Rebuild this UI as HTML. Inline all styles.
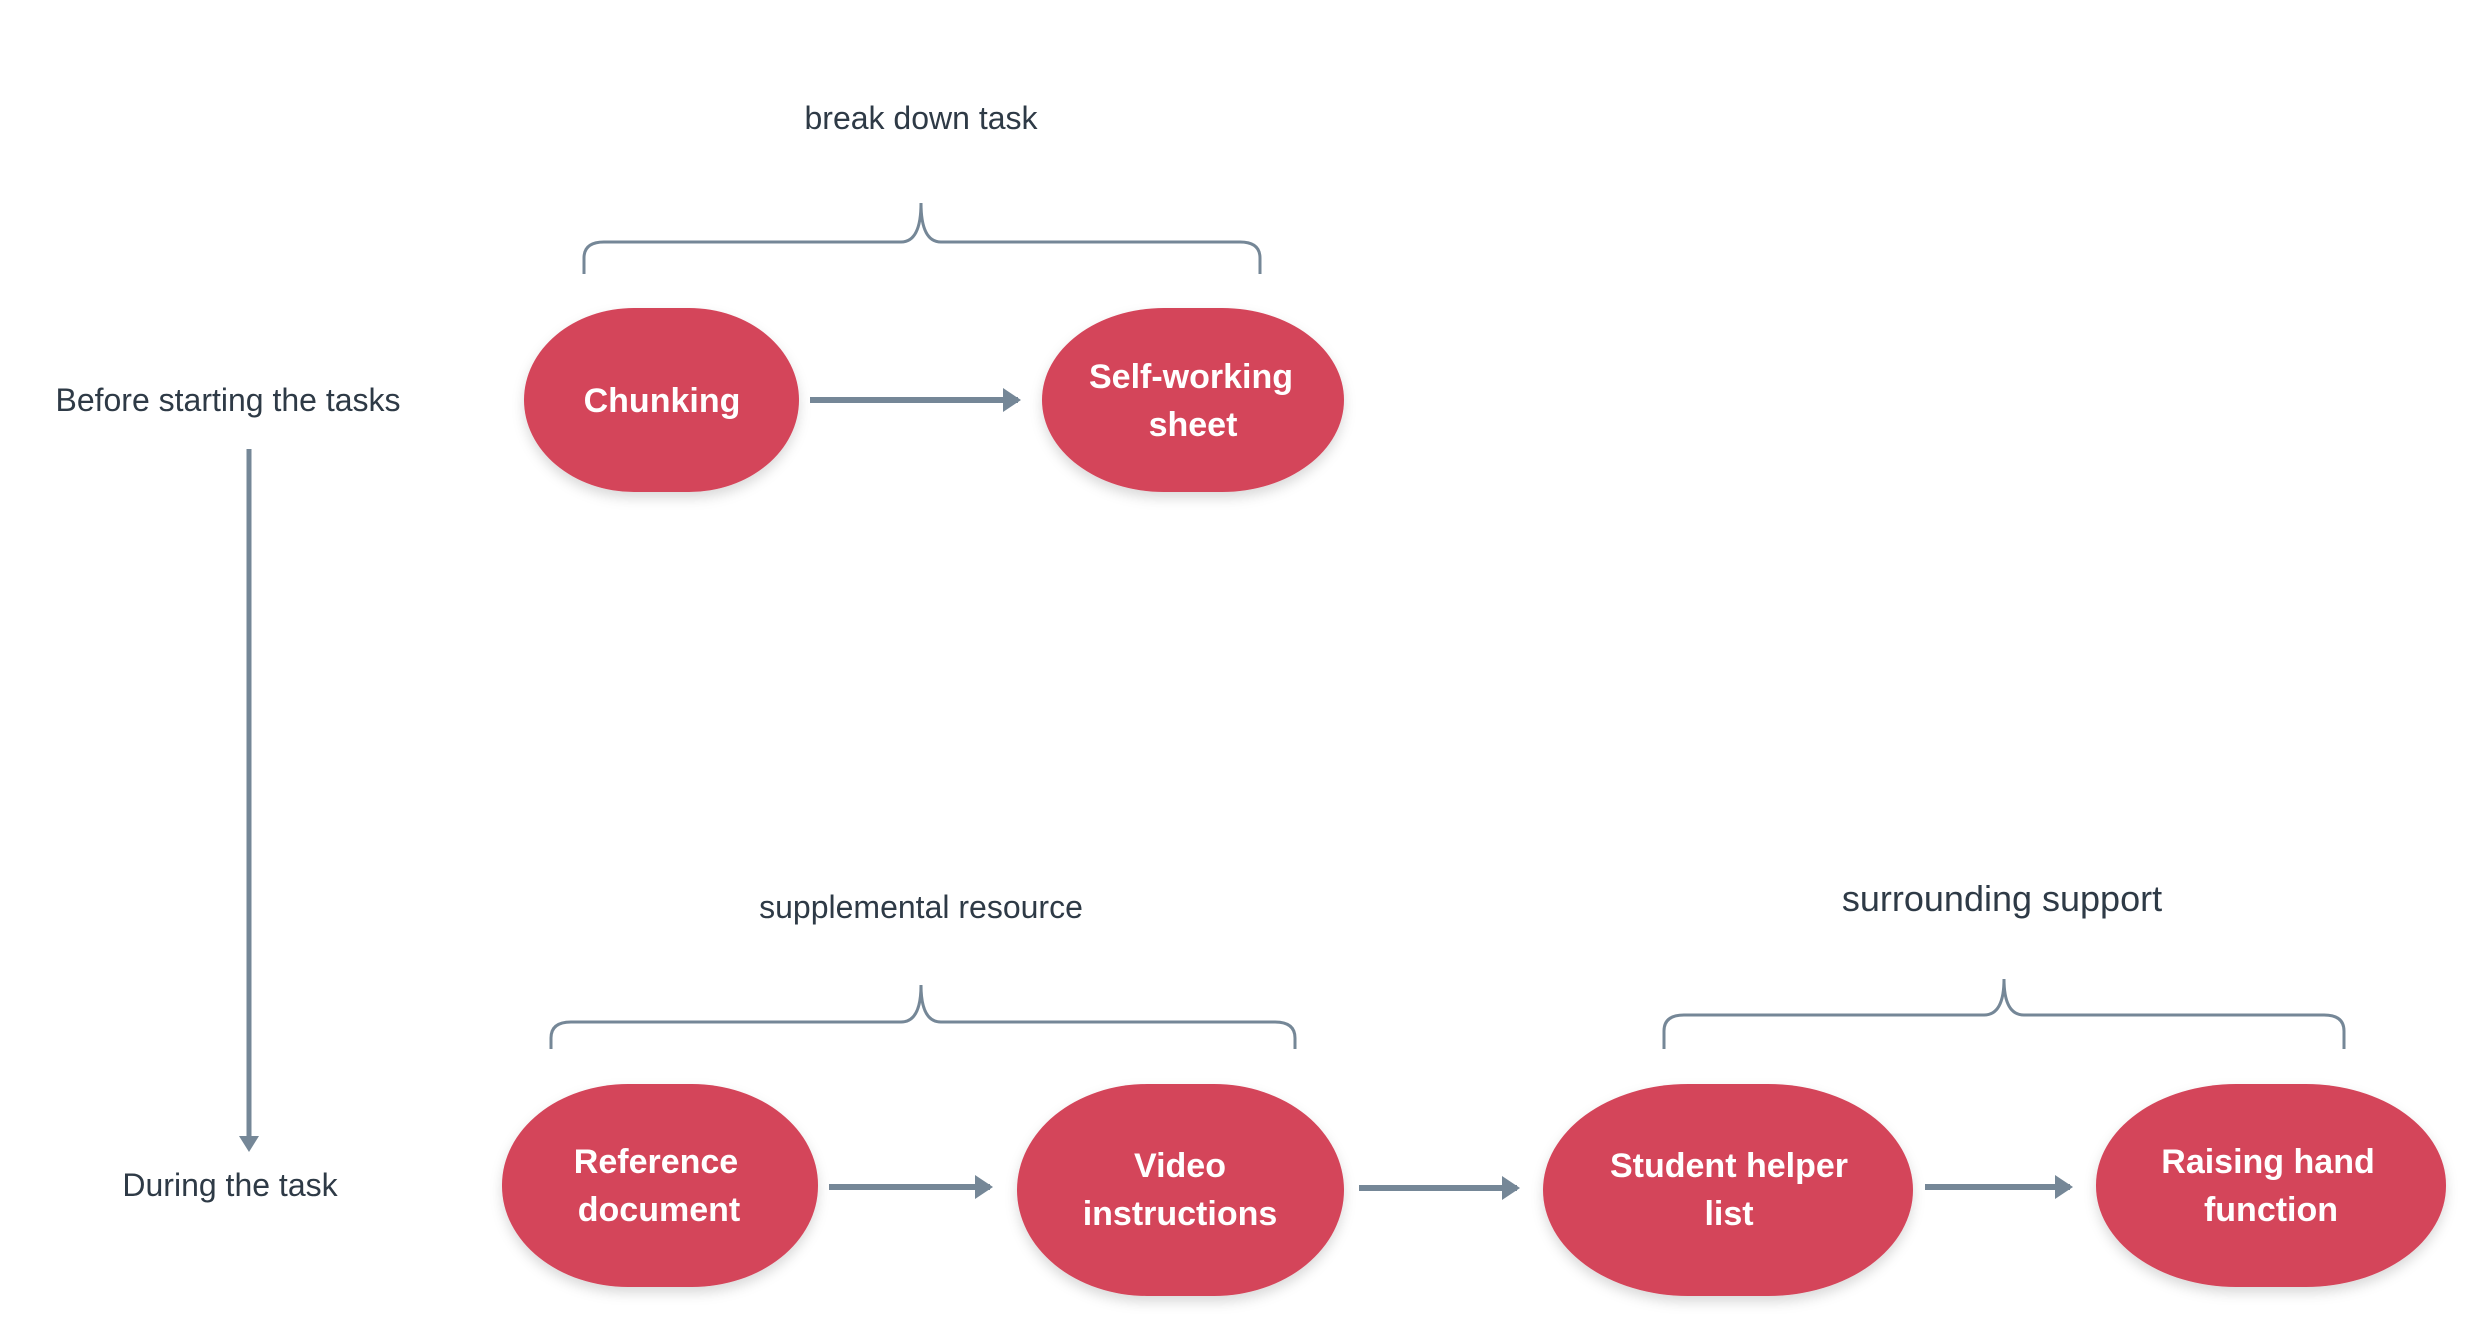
<!DOCTYPE html>
<html><head><style>
html,body{margin:0;padding:0;background:#fff;width:2480px;height:1324px;overflow:hidden}
</style></head><body>
<svg width="2480" height="1324" viewBox="0 0 2480 1324" xmlns="http://www.w3.org/2000/svg" font-family="Liberation Sans, sans-serif">
<defs>
<filter id="sh" x="-10%" y="-10%" width="120%" height="130%"><feDropShadow dx="0" dy="6" stdDeviation="6" flood-color="#000" flood-opacity="0.15"/></filter>
<marker id="ah" markerWidth="4" markerHeight="4" refX="2.5" refY="2" orient="auto" markerUnits="strokeWidth"><path d="M0,0 L3,2 L0,4 z" fill="#758797"/></marker>
</defs>
<g transform="translate(-4,-4)">
<g fill="#2e3a46" font-size="32" text-anchor="middle">
<text x="925" y="133">break down task</text>
<text x="232" y="415">Before starting the tasks</text>
<text x="234" y="1200">During the task</text>
<text x="925" y="922">supplemental resource</text>
<text x="2006" y="915" font-size="36">surrounding support</text>
</g>
<g fill="none" stroke="#758797" stroke-width="3">
<path d="M588,278 V262 Q588,246 608,246 H905 Q925,246 925,207 Q925,246 945,246 H1244 Q1264,246 1264,262 V278"/>
<path d="M555,1053 V1042 Q555,1026 575,1026 H905 Q925,1026 925,989 Q925,1026 945,1026 H1279 Q1299,1026 1299,1042 V1053"/>
<path d="M1668,1053 V1035 Q1668,1019 1688,1019 H1988 Q2008,1019 2008,983 Q2008,1019 2028,1019 H2328 Q2348,1019 2348,1035 V1053"/>
</g>
<g stroke="#758797" stroke-width="6" marker-end="url(#ah)">
<line x1="814" y1="404" x2="1022" y2="404"/>
<line x1="833" y1="1191" x2="994" y2="1191"/>
<line x1="1363" y1="1192" x2="1521" y2="1192"/>
<line x1="1929" y1="1191" x2="2074" y2="1191"/>
</g>
<line x1="253" y1="453" x2="253" y2="1142" stroke="#758797" stroke-width="5"/>
<path d="M243,1140 L263,1140 L253,1156 z" fill="#758797"/>
<g fill="#d4455a" filter="url(#sh)">
<rect x="528" y="312" width="275" height="184" rx="110" ry="92"/>
<rect x="1046" y="312" width="302" height="184" rx="122" ry="92"/>
<rect x="506" y="1088" width="316" height="203" rx="126" ry="101"/>
<rect x="1021" y="1088" width="327" height="212" rx="130" ry="106"/>
<rect x="1547" y="1088" width="370" height="212" rx="145" ry="106"/>
<rect x="2100" y="1088" width="350" height="203" rx="140" ry="101"/>
</g>
<g fill="#fff" font-size="34" font-weight="bold" text-anchor="middle">
<text x="666" y="416">Chunking</text>
<text x="1195" y="392">Self-working</text>
<text x="1197" y="440">sheet</text>
<text x="660" y="1177">Reference</text>
<text x="663" y="1225">document</text>
<text x="1184" y="1181">Video</text>
<text x="1184" y="1229">instructions</text>
<text x="1733" y="1181">Student helper</text>
<text x="1733" y="1229">list</text>
<text x="2272" y="1177">Raising hand</text>
<text x="2275" y="1225">function</text>
</g>
</g>
</svg>
</body></html>
